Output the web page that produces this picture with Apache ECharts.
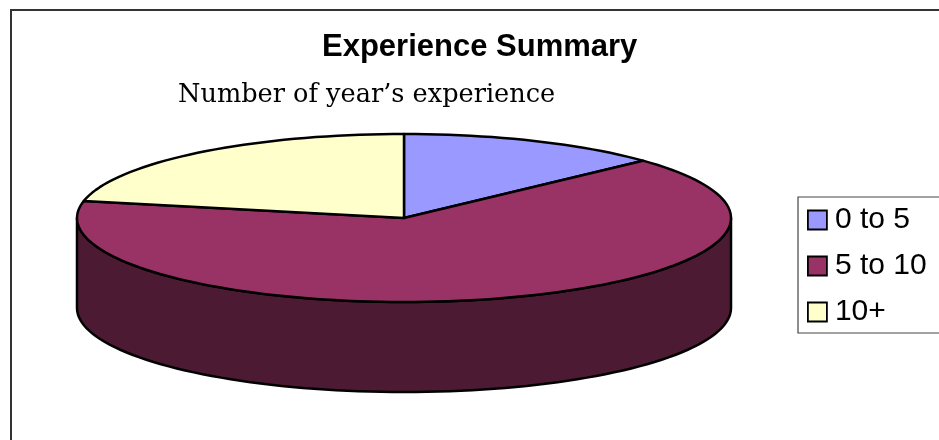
<!DOCTYPE html>
<html>
<head>
<meta charset="utf-8">
<script src="https://cdn.jsdelivr.net/npm/echarts@6/dist/echarts.min.js"></script>
<style>
html, body { margin: 0; padding: 0; background: #fff; }
#chart { width: 939px; height: 440px; }
</style>
</head>
<body>
<div id="chart"></div>
<script>
var categories = ['0 to 5', '5 to 10', '10+'];
var counts = [3, 15, 5];
var sliceColors = ['#9999FF', '#993366', '#FFFFCC'];
var sideColors = ['#4C4C80', '#4D1A33', '#808066'];

var total = counts.reduce(function (a, b) { return a + b; }, 0);

// 3d pie layout, pixels
var cx = 404, cy = 218, rx = 327, ry = 84, depth = 90;

function ellipsePt(deg, dy) {
  var t = deg * Math.PI / 180;
  return [cx + rx * Math.sin(t), cy - ry * Math.cos(t) + (dy || 0)];
}
function arc(a0, a1, dy) {
  var pts = [];
  var n = Math.max(2, Math.ceil(Math.abs(a1 - a0) / 2));
  for (var i = 0; i <= n; i++) pts.push(ellipsePt(a0 + (a1 - a0) * i / n, dy));
  return pts;
}

// angles run clockwise from 12 o'clock, front half is 90..270
function renderSlice(idx) {
  return function (params, api) {
    var before = 0;
    for (var i = 0; i < idx; i++) before += counts[i];
    var a0 = before / total * 360;
    var a1 = (before + api.value(0)) / total * 360;
    var children = [];
    var s = Math.max(a0, 90), e = Math.min(a1, 270);
    if (e > s) {
      children.push({
        type: 'polygon',
        shape: { points: arc(s, e, 0).concat(arc(e, s, depth)) },
        style: { fill: sideColors[idx], stroke: '#000', lineWidth: 2.5, lineJoin: 'round' }
      });
    }
    children.push({
      type: 'polygon',
      shape: { points: [[cx, cy]].concat(arc(a0, a1, 0)) },
      style: { fill: sliceColors[idx], stroke: '#000', lineWidth: 2.5, lineJoin: 'round' }
    });
    return { type: 'group', children: children };
  };
}

var series = categories.map(function (name, i) {
  return {
    type: 'custom',
    name: name,
    coordinateSystem: 'none',
    silent: true,
    itemStyle: { color: sliceColors[i] },
    data: [[counts[i]]],
    renderItem: renderSlice(i)
  };
});

var myChart = echarts.init(document.getElementById('chart'));
myChart.setOption({
  animation: false,
  title: [
    {
      text: 'Experience Summary',
      left: 317,
      top: 27,
      textStyle: { fontFamily: 'Liberation Sans', fontSize: 31, fontWeight: 'bold', color: '#000' }
    },
    {
      text: 'Number of year\u2019s experience',
      left: 173,
      top: 77,
      textStyle: { fontFamily: 'DejaVu Serif', fontSize: 25.6, fontWeight: 'normal', color: '#000' }
    }
  ],
  legend: {
    orient: 'vertical',
    left: 798,
    top: 197,
    padding: [8, 120, 6, 9],
    itemGap: 16,
    itemWidth: 19,
    itemHeight: 19,
    icon: 'rect',
    borderColor: '#444',
    borderWidth: 1.2,
    selectedMode: false,
    itemStyle: { borderColor: '#000', borderWidth: 1.8 },
    textStyle: { fontFamily: 'Liberation Sans', fontSize: 30, color: '#000', lineHeight: 30, padding: [0, 0, 0, 3] },
    data: categories
  },
  graphic: [
    {
      type: 'rect',
      shape: { x: 11, y: 10, width: 1200, height: 1000 },
      style: { fill: 'none', stroke: '#333', lineWidth: 2 }
    }
  ],
  series: series
});
</script>
</body>
</html>
